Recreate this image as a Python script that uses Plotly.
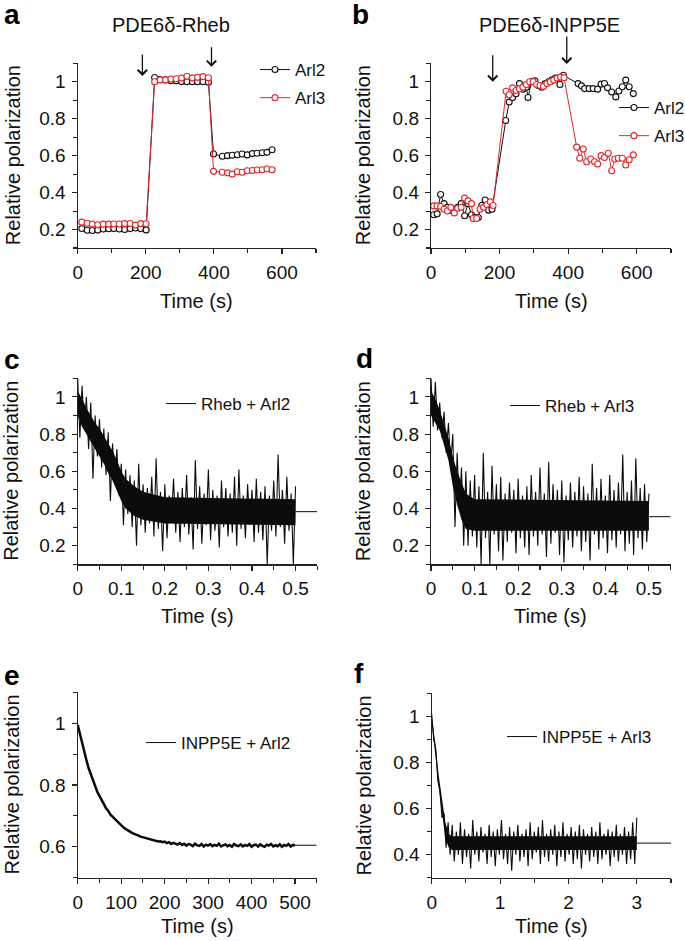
import plotly.graph_objects as go

FONT = "Liberation Sans, Arial, sans-serif"
RED = "#e3262b"
BLACK = "#111111"
W, H = 685, 941

# ---------------- Panel a : PDE6d-Rheb ----------------
a_arl2_t = [12, 28, 43, 59, 75, 91, 106, 122, 138, 154, 170, 185, 201,
            226, 242, 258, 274, 289, 305, 321, 337, 352, 368, 384,
            399, 425, 440, 454, 469, 483, 498, 513, 527, 542, 556, 571]
a_arl2_v = [0.205, 0.196, 0.195, 0.197, 0.203, 0.204, 0.205, 0.203, 0.200, 0.205, 0.208, 0.205, 0.198,
            1.023, 1.012, 1.010, 1.006, 1.005, 1.001, 1.000, 1.000, 1.000, 1.000, 0.997,
            0.609, 0.597, 0.600, 0.602, 0.605, 0.609, 0.604, 0.611, 0.613, 0.616, 0.618, 0.632]
a_arl3_t = a_arl2_t
a_arl3_v = [0.240, 0.234, 0.229, 0.226, 0.229, 0.229, 0.230, 0.230, 0.232, 0.233, 0.224, 0.232, 0.231,
            1.000, 1.010, 1.010, 1.015, 1.016, 1.020, 1.030, 1.021, 1.024, 1.028, 1.022,
            0.515, 0.510, 0.507, 0.500, 0.513, 0.510, 0.518, 0.520, 0.522, 0.524, 0.529, 0.524]
a_arrows_t = [190, 393]
a_arrows_tip = [1.031, 1.081]
a_arrows_len = [23, 21]

# ---------------- Panel b : PDE6d-INPP5E ----------------
b_arl2_t = [8, 18, 28, 38, 48, 58, 68, 78, 88, 98, 108, 118, 128, 138, 148, 158, 168, 178,
            218, 228, 238, 248, 258, 268, 278, 283, 293, 303, 313, 323, 333, 343, 353, 363, 376, 386,
            429, 439, 448, 461, 473, 486, 496, 506, 515, 527, 539, 548, 558, 568, 578, 590]
b_arl2_v = [0.280, 0.285, 0.390, 0.340, 0.320, 0.305, 0.310, 0.320, 0.340, 0.275, 0.340, 0.280, 0.265, 0.265,
            0.330, 0.360, 0.305, 0.310,
            0.790, 0.890, 0.915, 0.935, 0.990, 0.960, 0.970, 0.915, 1.000, 1.005, 0.980, 0.970, 0.990,
            1.000, 1.010, 1.020, 0.985, 1.035,
            0.990, 0.978, 0.963, 0.963, 0.963, 0.960, 0.987, 0.991, 0.967, 0.945, 0.918, 0.950, 0.973,
            1.009, 0.973, 0.936]
b_arl3_t = [8, 18, 28, 38, 48, 58, 68, 78, 88, 98, 108, 118, 123, 133, 143, 153, 163, 173, 181,
            219, 228, 238, 248, 258, 268, 278, 288, 298, 308, 318, 328, 338, 348, 358, 368, 378, 388,
            425, 434, 444, 454, 466, 477, 486, 496, 506, 517, 527, 536, 546, 558, 568, 578, 590]
b_arl3_v = [0.328, 0.328, 0.325, 0.310, 0.300, 0.320, 0.290, 0.315, 0.320, 0.370, 0.355, 0.340, 0.260,
            0.260, 0.310, 0.320, 0.335, 0.350, 0.330,
            0.949, 0.930, 0.967, 0.953, 0.962, 0.971, 0.985, 1.000, 1.000, 0.985, 0.980, 0.975, 0.990,
            1.000, 1.009, 1.020, 1.025, 1.022,
            0.646, 0.586, 0.636, 0.567, 0.582, 0.567, 0.555, 0.600, 0.590, 0.613, 0.518, 0.582, 0.586,
            0.586, 0.549, 0.578, 0.604]
b_arrows_t = [180, 396]
b_arrows_tip = [1.000, 1.096]
b_arrows_len = [28, 29]

# ---------------- Panel c : Rheb + Arl2 ----------------
# dense core of the trace (lower / upper edge read at a few times)
c_core_t = [0.000, 0.010, 0.020, 0.030, 0.040, 0.050, 0.060, 0.070, 0.080, 0.090, 0.100, 0.110,
            0.130, 0.150, 0.200, 0.500]
c_core_lo = [0.90, 0.84, 0.80, 0.76, 0.72, 0.68, 0.64, 0.59, 0.55, 0.50, 0.44, 0.40,
             0.36, 0.34, 0.32, 0.31]
c_core_hi = [1.03, 0.99, 0.94, 0.90, 0.86, 0.83, 0.79, 0.75, 0.71, 0.66, 0.60, 0.56,
             0.52, 0.49, 0.46, 0.45]
# excursions beyond the core (alternating upper / lower extremes, every 5 ms)
c_dt = 0.005
c_vals = [1.10, 0.78, 1.06, 0.83, 1.00, 0.72, 0.97, 0.56, 0.90, 0.68,
          0.88, 0.62, 0.83, 0.58, 0.81, 0.44, 0.75, 0.53, 0.72, 0.47,
          0.64, 0.31, 0.61, 0.37, 0.58, 0.30, 0.55, 0.20, 0.64, 0.31,
          0.53, 0.27, 0.51, 0.32, 0.57, 0.25, 0.67, 0.29, 0.49, 0.17,
          0.53, 0.24, 0.47, 0.33, 0.56, 0.27, 0.49, 0.22, 0.51, 0.30,
          0.58, 0.26, 0.46, 0.18, 0.66, 0.29, 0.52, 0.21, 0.48, 0.31,
          0.61, 0.23, 0.50, 0.28, 0.47, 0.19, 0.55, 0.30, 0.51, 0.25,
          0.48, 0.27, 0.57, 0.20, 0.61, 0.29, 0.47, 0.24, 0.53, 0.31,
          0.50, 0.22, 0.56, 0.27, 0.49, 0.23, 0.52, 0.10, 0.47, 0.28,
          0.55, 0.25, 0.69, 0.30, 0.50, 0.21, 0.57, 0.28, 0.48, 0.10,
          0.52]
c_fit_t = [0.5, 0.55]
c_fit_v = [0.383, 0.383]

# ---------------- Panel d : Rheb + Arl3 ----------------
d_core_t = [0.000, 0.010, 0.020, 0.030, 0.040, 0.050, 0.060, 0.070, 0.080, 0.100, 0.500]
d_core_lo = [0.90, 0.86, 0.82, 0.74, 0.66, 0.52, 0.42, 0.34, 0.29, 0.28, 0.28]
d_core_hi = [1.03, 0.99, 0.93, 0.86, 0.78, 0.68, 0.60, 0.54, 0.48, 0.45, 0.44]
d_dt = 0.005
d_vals = [1.10, 0.84, 1.08, 0.82, 0.97, 0.78, 0.92, 0.70, 0.86, 0.64,
          0.80, 0.30, 0.70, 0.40, 0.62, 0.20, 0.60, 0.20, 0.55, 0.25,
          0.58, 0.19, 0.52, 0.10, 0.70, 0.24, 0.49, 0.10, 0.63, 0.26,
          0.53, 0.17, 0.57, 0.12, 0.48, 0.22, 0.54, 0.27, 0.50, 0.16,
          0.56, 0.24, 0.47, 0.19, 0.52, 0.15, 0.58, 0.25, 0.49, 0.20,
          0.62, 0.26, 0.48, 0.14, 0.65, 0.21, 0.53, 0.27, 0.50, 0.15,
          0.55, 0.11, 0.47, 0.23, 0.54, 0.19, 0.49, 0.25, 0.57, 0.17,
          0.52, 0.22, 0.48, 0.12, 0.64, 0.26, 0.51, 0.18, 0.56, 0.24,
          0.47, 0.16, 0.58, 0.23, 0.50, 0.19, 0.54, 0.26, 0.69, 0.17,
          0.49, 0.21, 0.55, 0.15, 0.67, 0.24, 0.51, 0.18, 0.53, 0.22,
          0.48]
d_fit_t = [0.5, 0.55]
d_fit_v = [0.356, 0.356]

# ---------------- Panel e : INPP5E + Arl2 ----------------
e_dt = 5
e_vals = [0.995, 0.964, 0.935, 0.905, 0.881, 0.855, 0.835, 0.813, 0.797, 0.778,
          0.765, 0.749, 0.739, 0.725, 0.717, 0.705, 0.698, 0.688, 0.683, 0.674,
          0.669, 0.663, 0.658, 0.653, 0.649, 0.645, 0.642, 0.638, 0.636, 0.633,
          0.631, 0.628, 0.627, 0.624, 0.623, 0.620, 0.620, 0.617, 0.618, 0.615,
          0.617, 0.612, 0.615, 0.609, 0.613, 0.610, 0.607, 0.612, 0.606, 0.610,
          0.604, 0.609, 0.607, 0.602, 0.610, 0.605, 0.603, 0.609, 0.601, 0.607,
          0.604, 0.609, 0.602, 0.606, 0.603, 0.610, 0.601, 0.605, 0.608, 0.602,
          0.606, 0.600, 0.609, 0.604, 0.602, 0.608, 0.601, 0.606, 0.603, 0.609,
          0.600, 0.605, 0.607, 0.601, 0.608, 0.603, 0.600, 0.607, 0.604, 0.609,
          0.601, 0.605, 0.602, 0.608, 0.600, 0.606, 0.603, 0.609, 0.601, 0.606,
          0.604]
e_fit_t = [500, 550]
e_fit_v = [0.605, 0.605]

# ---------------- Panel f : INPP5E + Arl3 ----------------
f_core_t = [0.00, 0.05, 0.10, 0.15, 0.20, 0.25, 0.30, 3.00]
f_core_lo = [0.97, 0.84, 0.70, 0.58, 0.47, 0.43, 0.42, 0.42]
f_core_hi = [1.00, 0.89, 0.75, 0.64, 0.54, 0.49, 0.48, 0.48]
f_dt = 0.03
f_vals = [1.01, 0.90, 0.86, 0.72, 0.68, 0.56, 0.58, 0.43, 0.54, 0.40,
          0.53, 0.37, 0.50, 0.40, 0.54, 0.36, 0.51, 0.39, 0.49, 0.34,
          0.55, 0.40, 0.50, 0.37, 0.52, 0.41, 0.49, 0.36, 0.53, 0.39,
          0.50, 0.35, 0.51, 0.40, 0.55, 0.38, 0.49, 0.36, 0.52, 0.33,
          0.50, 0.40, 0.53, 0.37, 0.49, 0.39, 0.51, 0.35, 0.54, 0.38,
          0.50, 0.41, 0.52, 0.36, 0.55, 0.39, 0.49, 0.37, 0.51, 0.40,
          0.53, 0.35, 0.50, 0.39, 0.54, 0.37, 0.49, 0.40, 0.52, 0.36,
          0.50, 0.38, 0.53, 0.34, 0.51, 0.40, 0.49, 0.37, 0.52, 0.39,
          0.50, 0.36, 0.54, 0.38, 0.49, 0.40, 0.51, 0.35, 0.50, 0.39,
          0.53, 0.37, 0.49, 0.40, 0.52, 0.36, 0.50, 0.38, 0.54, 0.36,
          0.56]
f_fit_t = [3.0, 3.5]
f_fit_v = [0.450, 0.450]

# ---------------- text ----------------
panel_letters = ["a", "b", "c", "d", "e", "f"]
panel_titles = ["PDE6δ-Rheb", "PDE6δ-INPP5E"]
series_names = ["Arl2", "Arl3"]
trace_names = ["Rheb + Arl2", "Rheb + Arl3", "INPP5E + Arl2", "INPP5E + Arl3"]
x_title = "Time (s)"
y_title = "Relative polarization"

y_ticks_full = [0.2, 0.4, 0.6, 0.8, 1.0]
y_ticklabels_full = ["0.2", "0.4", "0.6", "0.8", "1"]
e_yticks = [0.6, 0.8, 1.0]
e_yticklabels = ["0.6", "0.8", "1"]
f_yticks = [0.4, 0.6, 0.8, 1.0]
f_yticklabels = ["0.4", "0.6", "0.8", "1"]
ab_xticks = [0, 200, 400, 600]
cd_xticks = [0, 0.1, 0.2, 0.3, 0.4, 0.5]
cd_xticklabels = ["0", "0.1", "0.2", "0.3", "0.4", "0.5"]
e_xticks = [0, 100, 200, 300, 400, 500]
f_xticks = [0, 1, 2, 3]

# ---------------- layout geometry (pixels: left, right, top, bottom) ----------------
boxes = [
    (77.7, 316.0, 63.3, 248.0),
    (431.0, 671.0, 63.3, 248.0),
    (77.7, 317.3, 378.3, 564.3),
    (431.0, 670.7, 378.3, 564.3),
    (77.7, 316.7, 692.3, 877.7),
    (431.7, 671.0, 693.3, 877.7),
]


def px_x(v):
    return v / W


def px_y(v):
    return 1 - v / H


def grid(dt, n):
    return [round(i * dt, 6) for i in range(n)]


fig = go.Figure()

# panels a, b
for (t2, v2, t3, v3, ax) in [(a_arl2_t, a_arl2_v, a_arl3_t, a_arl3_v, ""),
                             (b_arl2_t, b_arl2_v, b_arl3_t, b_arl3_v, "2")]:
    leg = "legend" if ax == "" else "legend2"
    for t, v, col, nm in [(t2, v2, BLACK, series_names[0]), (t3, v3, RED, series_names[1])]:
        fig.add_trace(go.Scatter(x=t, y=v, name=nm, mode="lines+markers",
                                 line=dict(color=col, width=1),
                                 marker=dict(symbol="circle", size=6, color="white",
                                             line=dict(color=col, width=1.1)),
                                 xaxis=f"x{ax}", yaxis=f"y{ax}", legend=leg,
                                 legendgroup=f"{leg}{nm}"))

# panels c-f
noisy = [
    (c_core_t, c_core_lo, c_core_hi, c_vals, c_dt, c_fit_t, c_fit_v, 3, 1.1),
    (d_core_t, d_core_lo, d_core_hi, d_vals, d_dt, d_fit_t, d_fit_v, 4, 1.1),
    (None, None, None, e_vals, e_dt, e_fit_t, e_fit_v, 5, 2.5),
    (f_core_t, f_core_lo, f_core_hi, f_vals, f_dt, f_fit_t, f_fit_v, 6, 1.1),
]
for k, (ct, clo, chi, vals, dt, ft, fv, ax, lw) in enumerate(noisy):
    if ct is not None:
        fig.add_trace(go.Scatter(x=list(ct) + list(ct[::-1]), y=list(chi) + list(clo[::-1]),
                                 mode="lines", fill="toself", fillcolor="#0c0c0c",
                                 line=dict(width=0, color="#0c0c0c"), showlegend=False,
                                 hoverinfo="skip", xaxis=f"x{ax}", yaxis=f"y{ax}"))
    fig.add_trace(go.Scatter(x=grid(dt, len(vals)), y=vals, mode="lines", showlegend=False,
                             line=dict(color="#0c0c0c", width=lw),
                             xaxis=f"x{ax}", yaxis=f"y{ax}"))
    fig.add_trace(go.Scatter(x=ft, y=fv, mode="lines", name=trace_names[k],
                             line=dict(color="#0c0c0c", width=1),
                             xaxis=f"x{ax}", yaxis=f"y{ax}", legend=f"legend{ax}"))

axis_common = dict(showline=True, linecolor="#222", linewidth=1.2, ticks="outside", ticklen=5,
                   tickwidth=1.1, tickcolor="#222", showgrid=False, zeroline=False,
                   tickfont=dict(family=FONT, size=19, color="#111"), fixedrange=True)


def minor(vals):
    return dict(tickvals=vals, ticklen=4, ticks="outside", tickcolor="#222", tickwidth=1.1)


xcfg = [
    dict(range=[0, 700], tickvals=ab_xticks, ticktext=[str(v) for v in ab_xticks],
         minor=minor([100, 300, 500, 700])),
    dict(range=[0, 700], tickvals=ab_xticks, ticktext=[str(v) for v in ab_xticks],
         minor=minor([100, 300, 500, 700])),
    dict(range=[0, 0.55], tickvals=cd_xticks, ticktext=cd_xticklabels,
         minor=minor([0.05, 0.15, 0.25, 0.35, 0.45, 0.55])),
    dict(range=[0, 0.55], tickvals=cd_xticks, ticktext=cd_xticklabels,
         minor=minor([0.05, 0.15, 0.25, 0.35, 0.45, 0.55])),
    dict(range=[0, 550], tickvals=e_xticks, ticktext=[str(v) for v in e_xticks],
         minor=minor([50, 150, 250, 350, 450, 550])),
    dict(range=[0, 3.5], tickvals=f_xticks, ticktext=[str(v) for v in f_xticks],
         minor=minor([0.5, 1.5, 2.5, 3.5])),
]
ycfg = [
    dict(range=[0.1, 1.1], tickvals=y_ticks_full, ticktext=y_ticklabels_full,
         minor=minor([0.1, 0.3, 0.5, 0.7, 0.9, 1.1])),
    dict(range=[0.1, 1.1], tickvals=y_ticks_full, ticktext=y_ticklabels_full,
         minor=minor([0.1, 0.3, 0.5, 0.7, 0.9, 1.1])),
    dict(range=[0.1, 1.1], tickvals=y_ticks_full, ticktext=y_ticklabels_full,
         minor=minor([0.1, 0.3, 0.5, 0.7, 0.9, 1.1])),
    dict(range=[0.1, 1.1], tickvals=y_ticks_full, ticktext=y_ticklabels_full,
         minor=minor([0.1, 0.3, 0.5, 0.7, 0.9, 1.1])),
    dict(range=[0.5, 1.1], tickvals=e_yticks, ticktext=e_yticklabels,
         minor=minor([0.5, 0.7, 0.9, 1.1])),
    dict(range=[0.3, 1.1], tickvals=f_yticks, ticktext=f_yticklabels,
         minor=minor([0.3, 0.5, 0.7, 0.9, 1.1])),
]

layout = dict(width=W, height=H, margin=dict(l=0, r=0, t=0, b=0, autoexpand=False),
              paper_bgcolor="white", plot_bgcolor="white",
              font=dict(family=FONT, color="#111"))
for i, (l, r, t, b) in enumerate(boxes):
    n = "" if i == 0 else str(i + 1)
    xa = dict(axis_common, domain=[px_x(l), px_x(r)], anchor=f"y{n}", ticklabelstandoff=2, **xcfg[i])
    ya = dict(axis_common, domain=[px_y(b), px_y(t)], anchor=f"x{n}", ticklabelstandoff=2, **ycfg[i])
    layout[f"xaxis{n}"] = xa
    layout[f"yaxis{n}"] = ya

# legends (left x px, top y px)
leg_pos = [(255, 52), (614, 90), (161, 386), (505, 388), (141, 725), (502, 719)]
for i, (lx, ty) in enumerate(leg_pos):
    n = "legend" if i == 0 else f"legend{i + 1}"
    layout[n] = dict(x=px_x(lx), y=px_y(ty), xanchor="left", yanchor="top",
                     bgcolor="rgba(0,0,0,0)", borderwidth=0,
                     font=dict(family=FONT, size=17, color="#111"),
                     tracegroupgap=3, traceorder="grouped", itemwidth=30)
fig.update_layout(**layout)

ann = []
letter_pos = [(11.5, 15), (361, 14), (11.5, 359), (364, 358), (11.5, 675), (359, 673)]
for s, (x, y) in zip(panel_letters, letter_pos):
    ann.append(dict(text=f"<b>{s}</b>", x=px_x(x), y=px_y(y), xref="paper", yref="paper",
                    showarrow=False, font=dict(family=FONT, size=28, color="#000"),
                    xanchor="center", yanchor="middle"))
for s, (x, y) in zip(panel_titles, [(171, 25), (549, 25)]):
    ann.append(dict(text=s, x=px_x(x), y=px_y(y), xref="paper", yref="paper", showarrow=False,
                    font=dict(family=FONT, size=20, color="#111"), xanchor="center", yanchor="middle"))
ytitle_x = [12.5, 362.5, 11.5, 363, 11.5, 363]
xtitle_y = [301, 301, 616, 616, 926, 926]
for i, (l, r, t, b) in enumerate(boxes):
    ann.append(dict(text=y_title, x=px_x(ytitle_x[i]), y=px_y((t + b) / 2), xref="paper", yref="paper",
                    showarrow=False, textangle=-90, font=dict(family=FONT, size=20, color="#111"),
                    xanchor="center", yanchor="middle"))
    ann.append(dict(text=x_title, x=px_x((l + r) / 2), y=px_y(xtitle_y[i]), xref="paper", yref="paper",
                    showarrow=False, font=dict(family=FONT, size=20, color="#111"),
                    xanchor="center", yanchor="middle"))
for ts, tips, lens, xr, yr in [(a_arrows_t, a_arrows_tip, a_arrows_len, "x", "y"),
                                (b_arrows_t, b_arrows_tip, b_arrows_len, "x2", "y2")]:
    for t, tip, ln in zip(ts, tips, lens):
        ann.append(dict(text="", x=t, y=tip, xref=xr, yref=yr, showarrow=True, ax=0, ay=-ln,
                        arrowhead=4, arrowsize=1.4, arrowwidth=1.3, arrowcolor="#111", standoff=0))
fig.update_layout(annotations=ann)

fig.write_html("out.html", config={"displayModeBar": False, "staticPlot": True},
               post_script="document.body.style.margin='0px';")
